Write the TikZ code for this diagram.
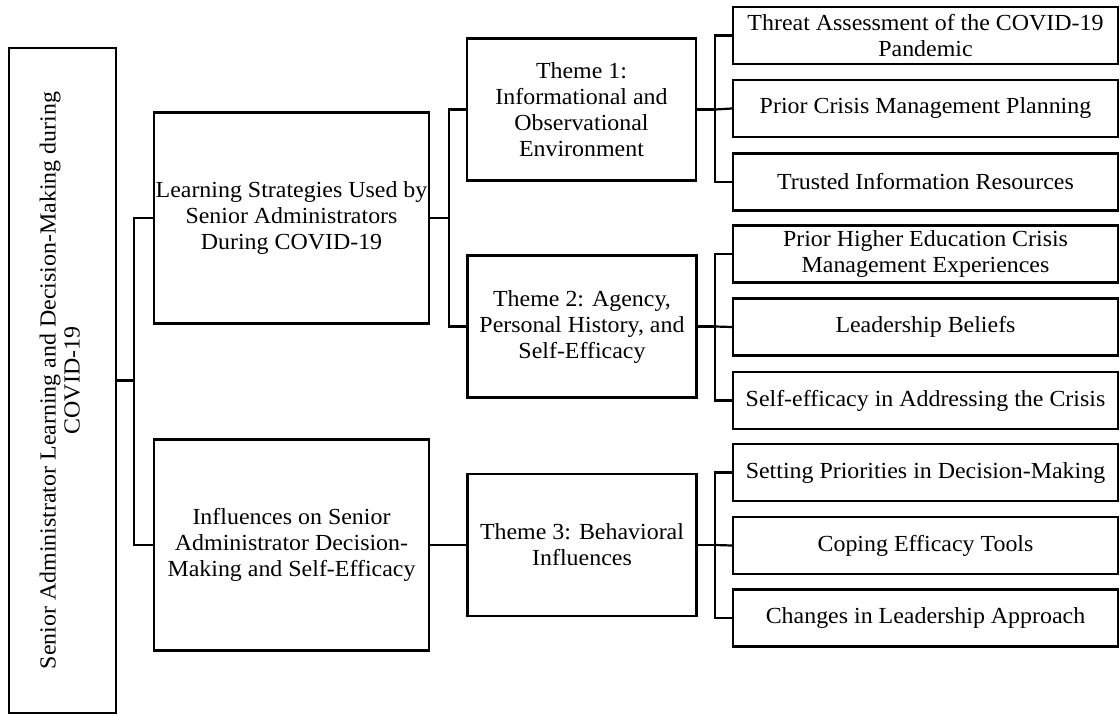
\documentclass[tikz,border=0pt]{standalone}
\usepackage{fontspec}
\usepackage{graphicx}
\setmainfont{Liberation Serif}[FakeStretch=1.04]
\begin{document}
\begin{tikzpicture}[x=1pt,y=-1pt,
  box/.style={draw=black, line width=2.2pt, fill=white, align=center, inner sep=0pt,
    font=\fontsize{23}{26}\selectfont},
  leaf/.style={box, minimum width=385pt, minimum height=57pt},
  theme/.style={box, minimum width=229pt, minimum height=142pt},
  cat/.style={box, minimum width=275pt, minimum height=211pt},
  link/.style={draw=black, line width=2.2pt, line join=miter}]
\useasboundingbox (0,0) rectangle (1120,715);

% root
\node[box, minimum width=107pt, minimum height=665pt] (root) at (62.5,380.5)
  {\rotatebox{90}{\begin{tabular}{@{}c@{}}Senior Administrator Learning and Decision-Making during\\[-2pt]COVID-19\end{tabular}}};

% categories
\node[cat] (learn) at (291.5,218) {Learning Strategies Used by\\Senior Administrators\\During COVID-19};
\node[cat] (infl) at (291.5,545) {Influences on Senior\\Administrator Decision-\\Making and Self-Efficacy};

% themes
\node[theme] (th1) at (581.5,109.5) {Theme 1:\\Informational and\\Observational\\Environment};
\node[theme] (th2) at (582,326.5) {Theme 2: Agency,\\Personal History, and\\Self-Efficacy};
\node[theme] (th3) at (582,545) {Theme 3: Behavioral\\Influences};

% leaves
\node[leaf] (r1) at (925.5,35.5) {Threat Assessment of the COVID-19\\Pandemic};
\node[leaf] (r2) at (925.5,108.5) {Prior Crisis Management Planning};
\node[leaf] (r3) at (925.5,182) {Trusted Information Resources};
\node[leaf] (r4) at (925.5,254) {Prior Higher Education Crisis\\Management Experiences};
\node[leaf] (r5) at (925.5,327) {Leadership Beliefs};
\node[leaf] (r6) at (925.5,400.5) {Self-efficacy in Addressing the Crisis};
\node[leaf] (r7) at (925.5,472.5) {Setting Priorities in Decision-Making};
\node[leaf] (r8) at (925.5,545.5) {Coping Efficacy Tools};
\node[leaf] (r9) at (925.5,618) {Changes in Leadership Approach};

% junctions
\coordinate (ja) at (134,380.5);
\coordinate (jb) at (449,218);
\coordinate (jc) at (715,109.5);
\coordinate (jd) at (715,326.5);
\coordinate (je) at (715,545);

% connectors
\draw[link] (root.east) -- (ja);
\draw[link] (learn.west) -| (ja) |- (infl.west);

\draw[link] (learn.east) -- (jb);
\draw[link] (th1.west) -| (jb) |- (th2.west);
\draw[link] (infl.east) -- (th3.west);

\draw[link] (th1.east) -- (jc);
\draw[link] (r1.west) -| (jc) |- (r3.west);
\draw[link] (jc) -- (r2.west);

\draw[link] (th2.east) -- (jd);
\draw[link] (r4.west) -| (jd) |- (r6.west);
\draw[link] (jd) -- (r5.west);

\draw[link] (th3.east) -- (je);
\draw[link] (r7.west) -| (je) |- (r9.west);
\draw[link] (je) -- (r8.west);
\end{tikzpicture}
\end{document}
